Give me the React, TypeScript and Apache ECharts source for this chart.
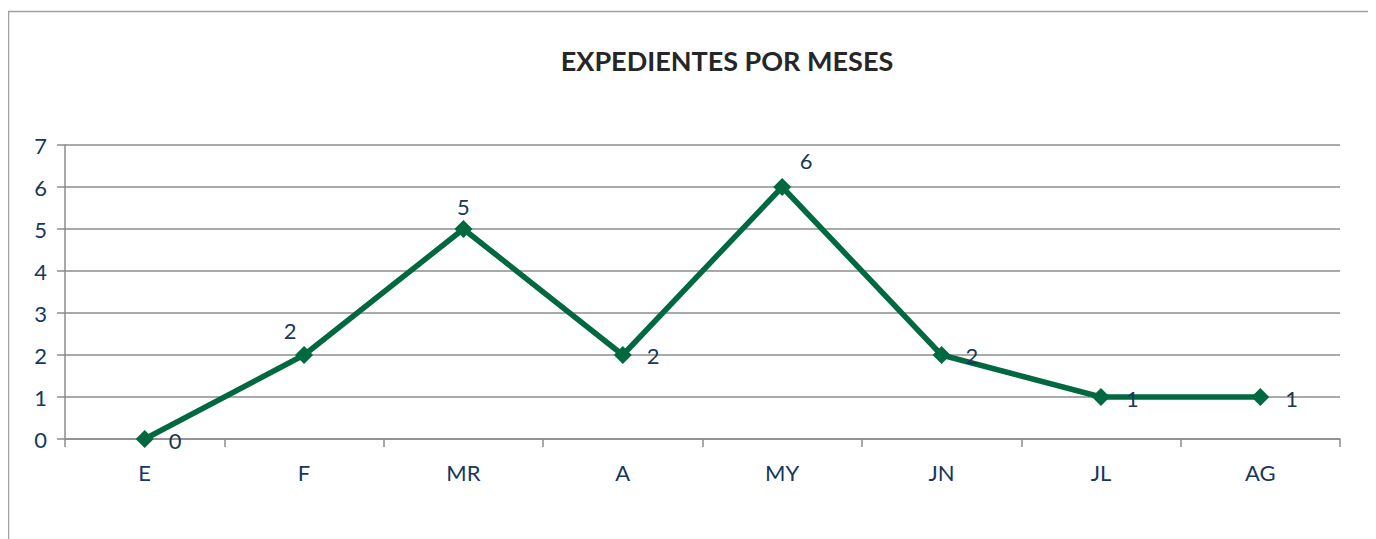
import React, { useEffect, useRef } from "react";
import * as echarts from "echarts";

const categories = ["E", "F", "MR", "A", "MY", "JN", "JL", "AG"];
const expedientes = [0, 2, 5, 2, 6, 2, 1, 1];
const yTicks = { min: 0, max: 7, interval: 1 };
const titleText = "EXPEDIENTES POR MESES";

const FONT = "Lato";
const LABEL_COLOR = "#17375E";
const LINE_COLOR = "#006940";
const GRID_COLOR = "#8C8C8C";

// label placement per point (style only)
const labelStyle: Array<{ position: string; offset: [number, number] }> = [
  { position: "right", offset: [10, 1] },
  { position: "top", offset: [-14, 0] },
  { position: "top", offset: [0, 2] },
  { position: "right", offset: [10, 0] },
  { position: "top", offset: [24, -2] },
  { position: "right", offset: [10, 0] },
  { position: "right", offset: [11, 1] },
  { position: "right", offset: [11, 1] },
];

export default function App() {
  const ref = useRef<HTMLDivElement>(null);
  useEffect(() => {
    if (!ref.current) return;
    const chart = echarts.init(ref.current, undefined, { renderer: "svg" });
    chart.setOption({
      animation: false,
      backgroundColor: "#fff",
      title: {
        text: titleText,
        left: 714,
        top: 34,
        textAlign: "center",
        textStyle: { fontFamily: FONT, fontWeight: "bold", fontSize: 27, color: "#262626" },
      },
      graphic: [
        {
          type: "rect",
          shape: { x: 0.5, y: 3.5, width: 1500, height: 700 },
          style: { fill: "none", stroke: "#A0A0A0", lineWidth: 1.5 },
          silent: true,
        },
      ],
      grid: { left: 57, right: 36, top: 137, bottom: 100, containLabel: false },
      xAxis: {
        type: "category",
        data: categories,
        boundaryGap: true,
        axisLine: { show: true, lineStyle: { color: GRID_COLOR, width: 1.5 } },
        axisTick: { show: true, length: 8, alignWithLabel: false, lineStyle: { color: GRID_COLOR, width: 1.5 } },
        axisLabel: { margin: 22, fontFamily: FONT, fontSize: 22, color: LABEL_COLOR },
        splitLine: { show: false },
      },
      yAxis: {
        type: "value",
        min: yTicks.min,
        max: yTicks.max,
        interval: yTicks.interval,
        axisLine: { show: true, lineStyle: { color: GRID_COLOR, width: 1.5 } },
        axisTick: { show: true, length: 8, lineStyle: { color: GRID_COLOR, width: 1.5 } },
        axisLabel: { margin: 18, fontFamily: FONT, fontSize: 22, color: LABEL_COLOR },
        splitLine: { show: true, lineStyle: { color: GRID_COLOR, width: 1.5 } },
      },
      series: [
        {
          type: "line",
          data: expedientes.map((v, i) => ({
            value: v,
            label: {
              show: true,
              position: labelStyle[i].position,
              offset: labelStyle[i].offset,
            },
          })),
          symbol: "diamond",
          symbolSize: 18,
          itemStyle: { color: LINE_COLOR },
          lineStyle: { color: LINE_COLOR, width: 5.5 },
          label: { show: true, fontFamily: FONT, fontSize: 22, color: LABEL_COLOR },
        },
      ],
    });
    return () => chart.dispose();
  }, []);
  return <div ref={ref} style={{ width: 1368, height: 531 }} />;
}
